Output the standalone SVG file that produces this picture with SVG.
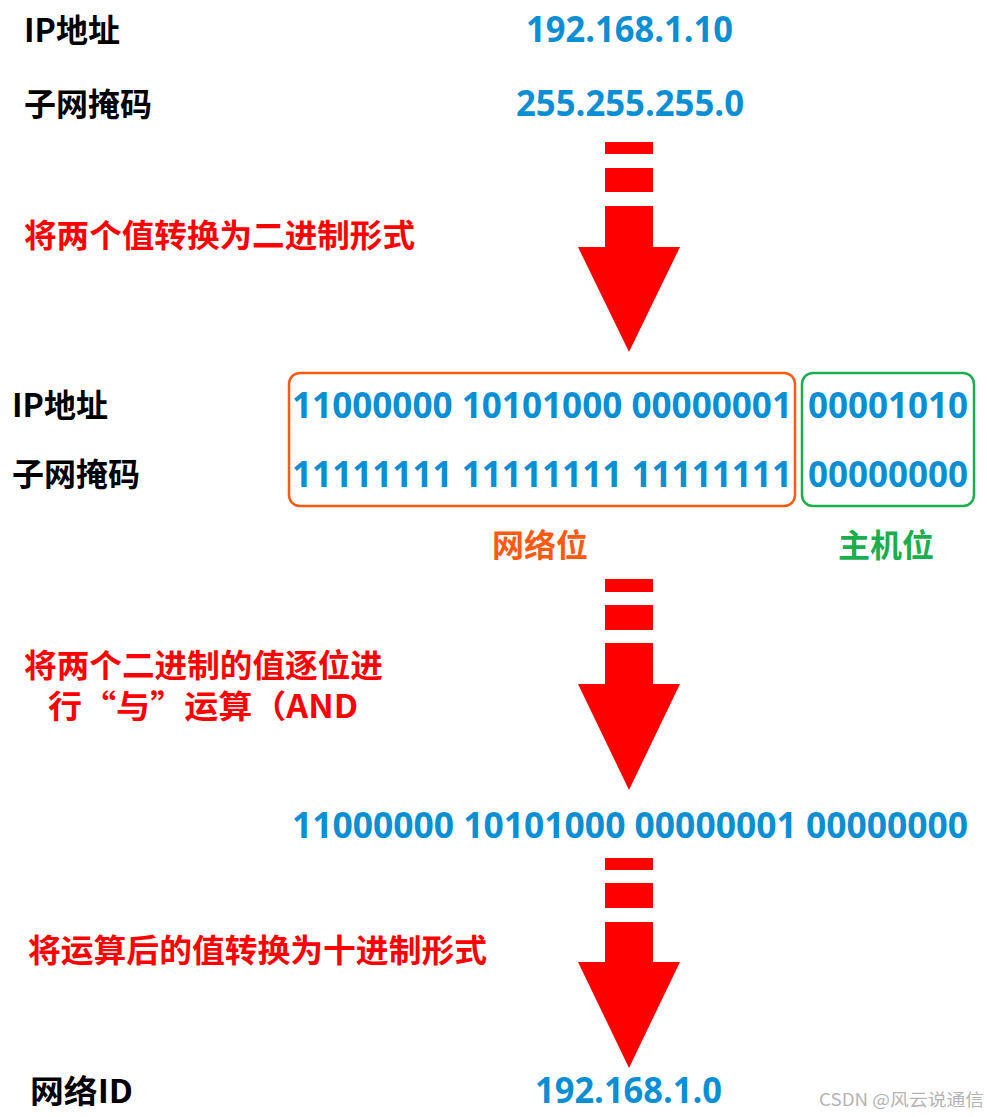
<svg xmlns="http://www.w3.org/2000/svg" width="987" height="1117" viewBox="0 0 987 1117">
<style>
.lbl{font-family:"Noto Sans CJK SC","Liberation Sans",sans-serif;font-weight:bold;font-size:32px;fill:#000}
.red{font-family:"Noto Sans CJK SC","Liberation Sans",sans-serif;font-weight:bold;font-size:32px;fill:#ff0000}
.num{font-family:"Open Sans","Liberation Sans",sans-serif;font-weight:bold;font-size:36px;fill:#0a8fd4}
.bin{font-family:"Open Sans","Liberation Sans",sans-serif;font-weight:bold;font-size:36px;fill:#0a8fd4}
.arrow{fill:#ff0000}
.wm{font-family:"Noto Sans CJK SC","Liberation Sans",sans-serif;font-size:17px;fill:#b4b4b4}
</style>
<rect width="987" height="1117" fill="#ffffff"/>
<g id="input">
<text class="lbl" x="24" y="42">IP地址</text>
<text class="lbl" x="24" y="116">子网掩码</text>
<text class="num" x="526" y="42" textLength="207" lengthAdjust="spacingAndGlyphs">192.168.1.10</text>
<text class="num" x="516" y="116" textLength="228" lengthAdjust="spacingAndGlyphs">255.255.255.0</text>
</g>
<g id="step1">
<text class="red" x="24" y="247" textLength="391" lengthAdjust="spacingAndGlyphs">将两个值转换为二进制形式</text>
</g>
<g id="binary">
<text class="lbl" x="12" y="417">IP地址</text>
<text class="lbl" x="12" y="486">子网掩码</text>
<rect x="289" y="373" width="506" height="133" rx="11" fill="none" stroke="#ff5a0f" stroke-width="2.5"/>
<rect x="802" y="373" width="172" height="133" rx="11" fill="none" stroke="#1aae4e" stroke-width="2.5"/>
<text class="bin" x="292" y="418" textLength="500" lengthAdjust="spacingAndGlyphs">11000000 10101000 00000001</text>
<text class="bin" x="808" y="418" textLength="160" lengthAdjust="spacingAndGlyphs">00001010</text>
<text class="bin" x="292" y="487" textLength="500" lengthAdjust="spacingAndGlyphs">11111111 11111111 11111111</text>
<text class="bin" x="808" y="487" textLength="160" lengthAdjust="spacingAndGlyphs">00000000</text>
<text class="red" x="492" y="557" style="fill:#ff5a0f">网络位</text>
<text class="red" x="838" y="557" style="fill:#1aae4e">主机位</text>
</g>
<g id="step2">
<text class="red"><tspan x="24" y="677" textLength="359" lengthAdjust="spacingAndGlyphs">将两个二进制的值逐位进</tspan><tspan x="48" y="718" textLength="310" lengthAdjust="spacingAndGlyphs">行“与”运算（AND</tspan></text>
</g>
<g id="result">
<text class="bin" x="292" y="838" textLength="676" lengthAdjust="spacingAndGlyphs">11000000 10101000 00000001 00000000</text>
</g>
<g id="step3">
<text class="red" x="28" y="962" textLength="459" lengthAdjust="spacingAndGlyphs">将运算后的值转换为十进制形式</text>
</g>
<g id="output">
<text class="lbl" x="30" y="1103" textLength="103" lengthAdjust="spacingAndGlyphs">网络ID</text>
<text class="num" x="535" y="1103" textLength="187" lengthAdjust="spacingAndGlyphs">192.168.1.0</text>
</g>
<g id="connectors">
<rect class="arrow" x="605" y="142" width="48" height="12"/>
<rect class="arrow" x="605" y="168" width="48" height="24"/>
<polygon class="arrow" points="605,206 653,206 653,247 680,247 629,352 578,247 605,247"/>
<rect class="arrow" x="605" y="579" width="48" height="13"/>
<rect class="arrow" x="605" y="605" width="48" height="25"/>
<polygon class="arrow" points="605,643 653,643 653,684 680,684 629,790 578,684 605,684"/>
<rect class="arrow" x="605" y="858" width="48" height="12"/>
<rect class="arrow" x="605" y="883" width="48" height="25"/>
<polygon class="arrow" points="605,922 653,922 653,962 680,962 629,1068 578,962 605,962"/>
</g>
<text class="wm" x="819" y="1106" textLength="165" lengthAdjust="spacingAndGlyphs">CSDN @风云说通信</text>
</svg>
